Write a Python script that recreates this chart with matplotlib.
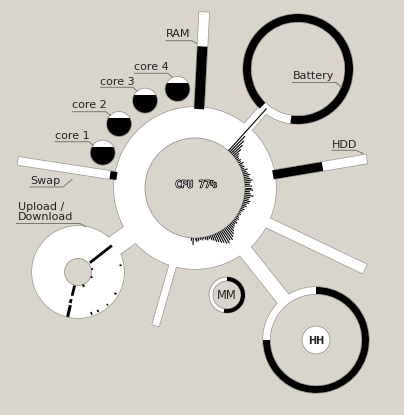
import numpy as np
import matplotlib.pyplot as plt
from matplotlib.patches import Circle, Wedge, Polygon, Rectangle
import matplotlib.patheffects as pe

bg = '#d9d4cc'
edge = '#9b978f'
ink = '#222222'

# main hub
cx, cy = 195, 188
r_out, r_in = 81, 50

# spokes around the hub (angle in screen degrees, y down)
spoke_names = ['RAM', 'Battery', 'HDD', 'right', 'HH', 'bottom', 'net', 'Swap']
spoke_angles = [-87, -49, -9.6, 25.5, 51.5, 106, 144.3, 188.7]
spoke_lengths = [176, 108, 174, 188, 146, 143, 114, 179]
spoke_widths = [10, 10, 9, 10, 14, 7, 20, 8]
spoke_used = [0.65, 0, 0.53, 0, 0, 0, 0, 0.06]

# cpu graph: bar lengths (px beyond inner circle), every 2 degrees from -48
cpu_start = -48
cpu_bars = [57, 22, 18, 14, 10, 6, 4, 3, 4, 3, 5, 3, 4, 3, 6, 4, 5, 7, 5, 6,
            8, 6, 5, 7, 6, 8, 5, 6, 9, 6, 5, 7, 6, 4, 5, 3, 4, 3, 2, 3,
            2, 3, 4, 3, 5, 4, 5, 6, 8, 10, 12, 14, 13, 15, 14, 12, 11, 9, 8, 6,
            5, 3, 4, 3, 2, 3, 2, 3, 4, 2, 7, 3]
cpu_text = 'CPU 77%'

# cores
core_x = [102.7, 119, 145, 177.5]
core_y = [152.7, 124, 100.7, 89]
core_load = [0.74, 0.76, 0.73, 0.73]
core_r = 12.5

# battery
bat_c = (298, 69)
bat_charge = 0.90
# HH / MM clocks
hh_c = (316, 340)
hh_frac = 0.75
mm_c = (227, 295)
mm_frac = 0.53

# network graph (angle, r0, r1, linewidth)
net_c = (78, 272)
net_segments = [(-38, 15, 43, 2.0), (-12, 13.5, 15.5, 1.2), (21, 13.5, 15.5, 1.2),
                (68, 13.5, 16, 1.4), (104, 14, 24.5, 2.0), (104, 28, 32, 2.0),
                (103, 34, 46, 2.2), (-9, 42, 44, 1.2), (30, 42, 44.5, 1.2),
                (63, 42.5, 45, 1.2), (72, 42, 45, 1.2), (48, 43, 45, 1.0)]


def pt(c, r, a):
    t = np.radians(a)
    return c[0] + r * np.cos(t), c[1] + r * np.sin(t)


def bar(c, r0, r1, a, w):
    t = np.radians(a)
    u = np.array([np.cos(t), np.sin(t)])
    n = np.array([-np.sin(t), np.cos(t)]) * w / 2
    c = np.array(c)
    return [c + r0 * u + n, c + r1 * u + n, c + r1 * u - n, c + r0 * u - n]


fig = plt.figure(figsize=(4.04, 4.15), dpi=100, facecolor=bg)
ax = fig.add_axes([0, 0, 1, 1])
ax.set_xlim(0, 404)
ax.set_ylim(415, 0)
ax.axis('off')
ax.set_facecolor(bg)

# white body: drawn twice so only the outline of the union shows
for layer in (1, 2):
    kw = dict(fc='white', ec=edge if layer == 1 else 'none', lw=1.0, zorder=layer)
    ax.add_patch(Circle((cx, cy), r_out, **kw))
    for a, L, w in zip(spoke_angles, spoke_lengths, spoke_widths):
        ax.add_patch(Polygon(bar((cx, cy), 0, L, a, w), closed=True, **kw))
    ax.add_patch(Circle(net_c, 46, **kw))
    ax.add_patch(Wedge(bat_c, 55, 0, 360, width=8, **kw))
    ax.add_patch(Wedge(hh_c, 53, 0, 360, width=7, **kw))

# used parts of spokes
for a, L, w, f in zip(spoke_angles, spoke_lengths, spoke_widths, spoke_used):
    if f > 0:
        r1 = r_out - 1 + f * (L - r_out)
        ax.add_patch(Polygon(bar((cx, cy), r_out - 2, r1, a, w), closed=True,
                             fc='black', ec='none', zorder=3))

# inner holes
ax.add_patch(Circle((cx, cy), r_in, fc=bg, ec=edge, lw=0.6, zorder=3))
ax.add_patch(Circle(net_c, 13.5, fc=bg, ec=edge, lw=0.6, zorder=3))

# battery ring
bat_end = 98
ax.add_patch(Wedge(bat_c, 55, bat_end + 360 * (1 - bat_charge), bat_end + 360,
                   width=8, fc='black', ec='none', zorder=3))

# HH ring
ax.add_patch(Wedge(hh_c, 53, -90, -90 + 360 * hh_frac, width=7,
                   fc='black', ec='none', zorder=3))
ax.add_patch(Circle(hh_c, 14, fc='white', ec=edge, lw=0.6, zorder=4))
ax.text(hh_c[0], hh_c[1] + 0.5, 'HH', fontsize=7, fontweight='bold', color=ink,
        ha='center', va='center', zorder=6)

# MM ring
ax.add_patch(Wedge(mm_c, 18, 0, 360, width=4, fc='white', ec=edge, lw=0.6, zorder=3))
ax.add_patch(Wedge(mm_c, 18, -90, -90 + 360 * mm_frac, width=4,
                   fc='black', ec='none', zorder=4))
ax.text(mm_c[0], mm_c[1] + 0.5, 'MM', fontsize=8.3, color=ink,
        ha='center', va='center', zorder=6)

# cpu graph
for i, v in enumerate(cpu_bars):
    a = cpu_start + 2 * i
    x0, y0 = pt((cx, cy), r_in, a)
    x1, y1 = pt((cx, cy), r_in + v, a)
    ax.plot([x0, x1], [y0, y1], color='black', lw=0.8, zorder=5,
            solid_capstyle='butt')
ax.text(cx + 1, cy - 3.5, cpu_text, fontsize=7, family='DejaVu Sans Mono',
        color='white', ha='center', va='center', zorder=6,
        path_effects=[pe.withStroke(linewidth=1.1, foreground='black')])

# network graph
for a, r0, r1, lw in net_segments:
    x0, y0 = pt(net_c, r0, a)
    x1, y1 = pt(net_c, r1, a)
    ax.plot([x0, x1], [y0, y1], color='black', lw=lw, zorder=5,
            solid_capstyle='butt')

# cores
for x, y, f in zip(core_x, core_y, core_load):
    circ = Circle((x, y), core_r, fc='white', ec='none', zorder=4)
    ax.add_patch(circ)
    lvl = y + core_r - 2 * core_r * f
    rect = Rectangle((x - core_r, lvl), 2 * core_r, 2 * core_r * f,
                     fc='black', ec='none', zorder=5)
    ax.add_patch(rect)
    rect.set_clip_path(circ)
    ax.add_patch(Circle((x, y), core_r, fc='none', ec=edge, lw=0.6, zorder=5))


def label(text, x, y, x0, x1, yl, tx, ty):
    ax.text(x, y, text, fontsize=8, color=ink, ha='left', va='center', zorder=6)
    ax.plot([x0, x1, tx], [yl, yl, ty], color='#7a7671', lw=0.7, zorder=6)


label('core 1', 55, 135.5, 55, 89, 141.7, 93.5, 145.5)
label('core 2', 72.5, 105, 72.5, 106, 111.7, 110.5, 115.5)
label('core 3', 100.5, 82, 100.5, 133, 87.3, 137, 91)
label('core 4', 134.5, 67.5, 134.5, 168, 73.3, 172, 77)
label('RAM', 166, 34, 166, 191.5, 40.7, 197, 43.5)
label('Battery', 292.5, 76, 292.5, 336, 82.5, 341, 87)
label('HDD', 332, 145, 332, 356, 150.3, 363, 153.5)
label('Swap', 30.5, 181, 30, 63, 187, 72, 179.5)
ax.text(18, 212, 'Upload /\nDownload', fontsize=8, color=ink, ha='left',
        va='center', linespacing=0.95, zorder=6)
ax.plot([16.5, 80, 85.5], [223.5, 223.5, 226.5], color='#7a7671', lw=0.7, zorder=6)

fig.savefig('out.png', dpi=100, facecolor=bg)
